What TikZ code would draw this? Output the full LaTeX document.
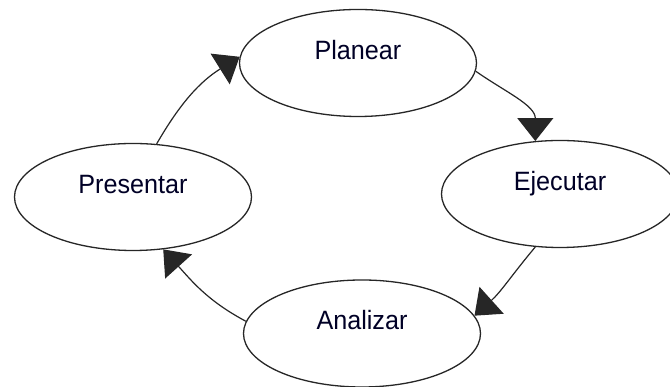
\documentclass[tikz,border=0pt]{standalone}
\usepackage{fontspec}
\setmainfont{Liberation Sans}[FakeStretch=0.95]
\usetikzlibrary{shapes.geometric,arrows.meta}
\begin{document}
\begin{tikzpicture}[x=1pt,y=1pt,
  stage/.style={ellipse,draw=black!85,line width=1.3pt,fill=white,inner sep=0pt,
    minimum width=237pt,minimum height=107pt,font=\fontsize{26.5}{28}\selectfont,
    text height=20pt,text depth=27pt,text=black!85!blue},
  flow/.style={draw=black!85,line width=1.2pt,-{Triangle[length=23pt,width=36pt]}}]
\clip (0,0) rectangle (670,387);
\fill[white] (0,0) rectangle (670,387);
\node[stage] (planear) at (358,324) {Planear};
\node[stage] (ejecutar) at (560,193) {Ejecutar};
\node[stage] (analizar) at (362,53.5) {Analizar};
\node[stage] (presentar) at (133,190) {Presentar};
\draw[flow] (planear.-4) to[out=-35,in=90] (ejecutar.115);
\draw[flow] (ejecutar.245) to[out=230,in=42] (analizar.9);
\draw[flow] (analizar.174) to[out=152,in=-48] (presentar.-60);
\draw[flow] (presentar.66) to[out=60,in=-148] (planear.177);
\end{tikzpicture}
\end{document}
